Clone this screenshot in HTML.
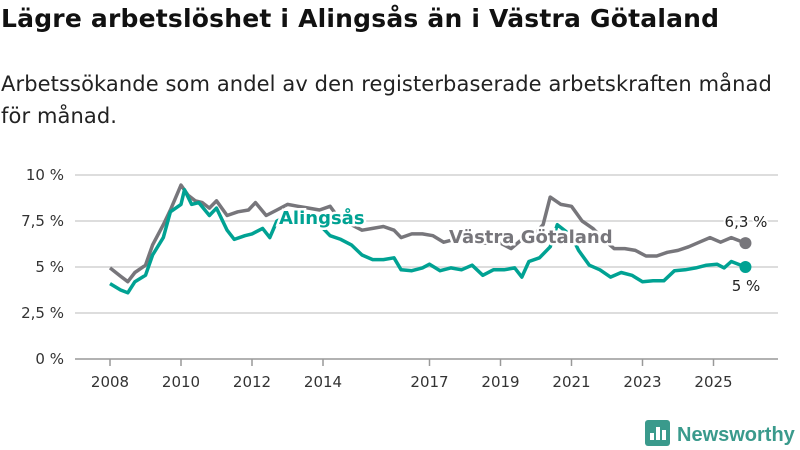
<!DOCTYPE html>
<html><head><meta charset="utf-8">
<style>
body{margin:0;width:800px;height:450px;background:#fff;font-family:"DejaVu Sans","Liberation Sans",sans-serif;overflow:hidden;position:relative}
#title{position:absolute;left:1px;top:4px;font-size:25px;font-weight:bold;color:#111;margin:0;white-space:nowrap;letter-spacing:0.2px}
#sub{position:absolute;left:1px;top:68px;font-size:21px;color:#222;line-height:32px;width:799px;letter-spacing:0.1px;white-space:nowrap}
svg{position:absolute;left:0;top:0}
</style></head><body>
<h1 id="title">Lägre arbetslöshet i Alingsås än i Västra Götaland</h1>
<div id="sub">Arbetssökande som andel av den registerbaserade arbetskraften månad<br>för månad.</div>
<svg id="chart" width="800" height="450"></svg>
<script>
const yTicks=[0,2.5,5,7.5,10];
const yTickLabels=["0 %","2,5 %","5 %","7,5 %","10 %"];
const xTicks=[2008,2010,2012,2014,2017,2019,2021,2023,2025];
const vgYears=[2008.0,2008.3,2008.5,2008.7,2009.0,2009.2,2009.5,2009.7,2010.0,2010.2,2010.4,2010.6,2010.8,2011.0,2011.3,2011.6,2011.9,2012.1,2012.4,2012.7,2013.0,2013.3,2013.6,2013.9,2014.2,2014.5,2014.8,2015.1,2015.4,2015.7,2016.0,2016.2,2016.5,2016.8,2017.1,2017.4,2017.7,2018.0,2018.5,2019.0,2019.3,2019.6,2019.9,2020.2,2020.4,2020.7,2021.0,2021.3,2021.6,2021.9,2022.2,2022.5,2022.8,2023.1,2023.4,2023.7,2024.0,2024.3,2024.6,2024.9,2025.2,2025.5,2025.9];
const vgValues=[4.95,4.5,4.2,4.7,5.1,6.2,7.3,8.1,9.45,8.9,8.6,8.5,8.2,8.6,7.8,8.0,8.1,8.5,7.8,8.1,8.4,8.3,8.2,8.1,8.3,7.5,7.3,7.0,7.1,7.2,7.0,6.6,6.8,6.8,6.7,6.35,6.5,6.5,6.3,6.3,6.0,6.5,6.7,7.3,8.8,8.4,8.3,7.5,7.1,6.5,6.0,6.0,5.9,5.6,5.6,5.8,5.9,6.1,6.35,6.6,6.35,6.6,6.3];
const alYears=[2008.0,2008.3,2008.5,2008.7,2009.0,2009.2,2009.5,2009.7,2010.0,2010.1,2010.3,2010.5,2010.8,2011.0,2011.3,2011.5,2011.8,2012.0,2012.3,2012.5,2012.7,2013.0,2013.5,2013.9,2014.2,2014.5,2014.8,2015.1,2015.4,2015.7,2016.0,2016.2,2016.5,2016.8,2017.0,2017.3,2017.6,2017.9,2018.2,2018.5,2018.8,2019.1,2019.4,2019.6,2019.8,2020.1,2020.4,2020.6,2021.0,2021.2,2021.5,2021.8,2022.1,2022.4,2022.7,2023.0,2023.3,2023.6,2023.9,2024.2,2024.5,2024.8,2025.1,2025.3,2025.5,2025.9];
const alValues=[4.1,3.75,3.6,4.2,4.55,5.65,6.6,8.0,8.4,9.2,8.4,8.5,7.8,8.2,7.0,6.5,6.7,6.8,7.1,6.6,7.5,7.8,7.7,7.3,6.7,6.5,6.2,5.65,5.4,5.4,5.5,4.85,4.8,4.95,5.15,4.8,4.95,4.85,5.1,4.55,4.85,4.85,4.95,4.45,5.3,5.5,6.1,7.3,6.7,5.9,5.1,4.85,4.45,4.7,4.55,4.2,4.25,4.25,4.8,4.85,4.95,5.1,5.15,4.95,5.3,5.0];
const NS="http://www.w3.org/2000/svg";
const svg=document.getElementById('chart');
const X=v=>110+(v-2008)*35.5;
const Y=v=>359-v*18.4;
function el(t,a,txt){const e=document.createElementNS(NS,t);for(const k in a)e.setAttribute(k,a[k]);if(txt!==undefined)e.textContent=txt;svg.appendChild(e);return e;}
yTicks.forEach((t,i)=>{
  const g=el('line',{x1:75,x2:778,y1:Y(t),y2:Y(t),stroke:t===0?'#999':'#ddd','stroke-width':t===0?1.5:2});
  
  
  const l=el('text',{x:64,y:Y(t)+5,'text-anchor':'end','font-size':15,fill:'#333'},yTickLabels[i]);
  
  
});
xTicks.forEach(t=>{
  const k=el('line',{x1:X(t),x2:X(t),y1:359,y2:366,stroke:'#999','stroke-width':1.5});
  
  
  const l=el('text',{x:X(t),y:387,'text-anchor':'middle','font-size':15,fill:'#333'},String(t));
  
  
});
function line(xs,vs,c,name){
  const d=xs.map((x,i)=>(i?'L':'M')+X(x).toFixed(1)+','+Y(vs[i]).toFixed(1)).join('');
  const p=el('path',{d:d,fill:'none',stroke:c,'stroke-width':3.5,'stroke-linejoin':'round'});
  
  
  const n=xs.length-1;
  const c2=el('circle',{cx:X(xs[n]),cy:Y(vs[n]),r:6,fill:c});
  
  
}
line(vgYears,vgValues,'#77767b','line-vastra-gotaland');
line(alYears,alValues,'#00a293','line-alingsas');
function label(x,y,t,c,name,size,bold,anchor){
  const e=el('text',{x:x,y:y,'font-size':size,'font-weight':bold?'bold':'normal',fill:c,stroke:'#fff','stroke-width':bold?5:4,'paint-order':'stroke','text-anchor':anchor||'start'},t);
  
  
}
label(279,224,'Alingsås','#00a293','series-label-alingsas',18,true);
label(449,243,'Västra Götaland','#77767b','series-label-vastra-gotaland',18,true);
label(746,227,'6,3 %','#222','end-value-vastra-gotaland',15,false,'middle');
label(746,291,'5 %','#222','end-value-alingsas',15,false,'middle');
const logo=el('g',{});


const r=document.createElementNS(NS,'rect');
[['x',645],['y',420],['width',25],['height',26],['rx',3],['fill','#3a9a8c']].forEach(a=>r.setAttribute(a[0],a[1]));
logo.appendChild(r);
[[650,433,4],[656,427,4],[662,430,4]].forEach(b=>{const q=document.createElementNS(NS,'rect');q.setAttribute('x',b[0]);q.setAttribute('y',b[1]);q.setAttribute('width',b[2]);q.setAttribute('height',440-b[1]);q.setAttribute('fill','#fff');logo.appendChild(q);});
const lt=document.createElementNS(NS,'text');
lt.setAttribute('x',677);lt.setAttribute('y',441);lt.setAttribute('font-size',20);lt.setAttribute('font-weight','bold');lt.setAttribute('fill','#3a9a8c');
lt.setAttribute('font-family','Liberation Sans');
lt.textContent='Newsworthy';
logo.appendChild(lt);
</script>
</body></html>
